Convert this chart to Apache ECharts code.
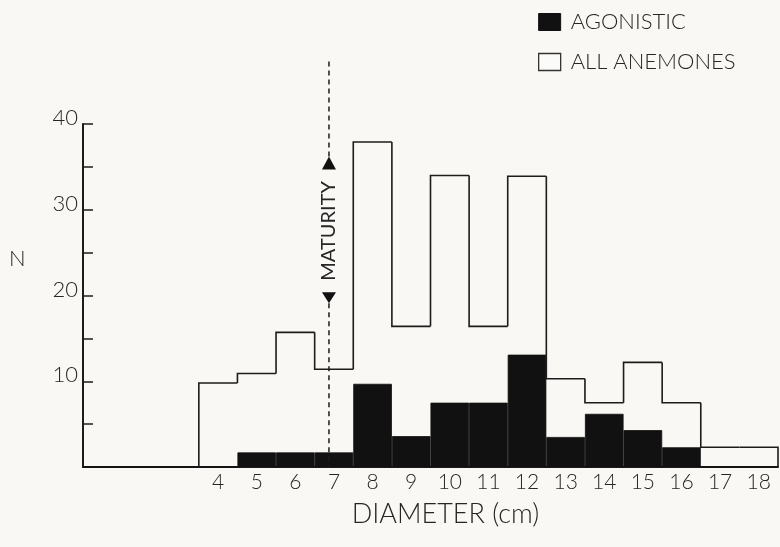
<!DOCTYPE html>
<html>
<head>
<meta charset="utf-8">
<script src="https://cdn.jsdelivr.net/npm/echarts@6/dist/echarts.min.js"></script>
<style>
  html, body { margin: 0; padding: 0; background: #f9f8f4; }
  #chart { width: 780px; height: 547px; }
</style>
</head>
<body>
<div id="chart"></div>
<script>
// Diameter classes (cm); classes 1-3 are empty space before the first bar
const categories = ['1','2','3','4','5','6','7','8','9','10','11','12','13','14','15','16','17','18'];
// ALL ANEMONES (outlined histogram); null = no bar
const allAnemones = [null, null, null, 9.8, 10.9, 15.7, 11.4, 37.9, 16.4, 34.0, 16.4, 33.9, 10.3, 7.5, 12.2, 7.5, 2.3, 2.3];
// AGONISTIC (filled histogram)
const agonistic = [0, 0, 0, 0, 1.7, 1.7, 1.7, 9.7, 3.6, 7.5, 7.5, 13.1, 3.5, 6.2, 4.3, 2.3, 0, 0];
// Y tick labels
const yTickLabels = ['10', '20', '30', '40'];
// Maturity marker
const maturityCategory = '7';

const FONT = 'Lato';
const INK = '#1c1c1c';
const TXT = '#262626';

// Build outline step data: [index, value, previousValue, isLast]
const outlineData = [];
let prev = 0;
const lastIdx = allAnemones.reduce((a, v, i) => (v != null ? i : a), -1);
allAnemones.forEach((v, i) => {
  if (v == null) return;
  outlineData.push([i, v, prev, i === lastIdx ? 1 : 0]);
  prev = v;
});
const matIdx = categories.indexOf(maturityCategory);

const chart = echarts.init(document.getElementById('chart'), null, { renderer: 'canvas' });

chart.setOption({
  backgroundColor: '#f9f8f4',
  animation: false,
  textStyle: { fontFamily: FONT, color: TXT },
  title: {
    text: 'N', left: 4, top: 243,
    textStyle: { fontFamily: FONT, fontWeight: 300, fontSize: 22, color: TXT }
  },
  legend: {
    orient: 'vertical', left: 533, top: 6,
    itemWidth: 22, itemHeight: 17, itemGap: 18,
    icon: 'rect',
    textStyle: { fontFamily: FONT, fontWeight: 300, fontSize: 22, color: TXT, padding: [0, 0, 0, 5] },
    data: [
      { name: 'AGONISTIC', itemStyle: { color: '#111', borderColor: '#111', borderWidth: 1 } },
      { name: 'ALL ANEMONES', itemStyle: { color: '#fbfbf9', borderColor: '#333', borderWidth: 1.3 } }
    ]
  },
  grid: { left: 83, right: 2, top: 124, bottom: 80, containLabel: false },
  xAxis: {
    type: 'category',
    data: categories,
    boundaryGap: true,
    name: 'DIAMETER (cm)',
    nameLocation: 'middle',
    nameGap: 34,
    nameTextStyle: { fontFamily: FONT, fontWeight: 300, fontSize: 27, color: TXT, padding: [0, 0, 0, 30] },
    axisLine: { lineStyle: { color: INK, width: 2 } },
    axisTick: { show: false },
    axisLabel: {
      interval: 0, margin: 5,
      fontFamily: FONT, fontWeight: 300, fontSize: 21, color: TXT,
      formatter: (v) => (Number(v) >= 4 ? v : '')
    },
    splitLine: { show: false }
  },
  yAxis: {
    type: 'value',
    min: 0, max: 40, interval: 10,
    axisLine: { show: true, lineStyle: { color: INK, width: 2 } },
    axisTick: { show: true, inside: true, length: 10, lineStyle: { color: INK, width: 1.5 } },
    minorTick: { show: true, splitNumber: 2, length: 10, lineStyle: { color: INK, width: 1.5 } },
    axisLabel: {
      margin: 5, verticalAlign: 'bottom', lineHeight: 12,
      fontFamily: FONT, fontWeight: 300, fontSize: 22, color: TXT,
      formatter: (v) => (yTickLabels.indexOf(String(v)) >= 0 ? String(v) : '')
    },
    splitLine: { show: false }
  },
  series: [
    {
      name: 'AGONISTIC',
      type: 'bar',
      data: agonistic,
      barWidth: '100%',
      barGap: '-100%',
      itemStyle: { color: '#111', borderColor: '#111', borderWidth: 0.8 },
      z: 2
    },
    {
      name: 'ALL ANEMONES',
      type: 'custom',
      data: outlineData,
      encode: { x: 0, y: 1 },
      z: 3,
      renderItem: function (params, api) {
        const idx = api.value(0);
        const v = api.value(1);
        const pv = api.value(2);
        const last = api.value(3);
        const c = api.coord([idx, v]);
        const w = api.size([1, 0])[0];
        const yPrev = api.coord([idx, pv])[1];
        const y0 = api.coord([idx, 0])[1];
        const l = c[0] - w / 2, r = c[0] + w / 2;
        const pts = [[l, yPrev], [l, c[1]], [r, c[1]]];
        if (last) pts.push([r, y0]);
        return {
          type: 'polyline',
          shape: { points: pts },
          style: { stroke: INK, lineWidth: 1.6, fill: null }
        };
      }
    },
    {
      name: 'maturity',
      type: 'custom',
      data: [[matIdx, 0]],
      encode: { x: 0, y: 1 },
      z: 4,
      silent: true,
      renderItem: function (params, api) {
        const idx = api.value(0);
        const base = api.coord([idx, 0]);
        const x = base[0] - 5;
        const yBase = base[1];
        const yTop = api.coord([idx, 47.3])[1];
        const upTip = api.coord([idx, 36.2])[1];
        const downTip = api.coord([idx, 19.1])[1];
        const mid = (upTip + 13 + downTip - 11) / 2;
        const dash = { stroke: INK, lineWidth: 1.5, lineDash: [5, 4] };
        return {
          type: 'group',
          children: [
            { type: 'line', shape: { x1: x, y1: yTop, x2: x, y2: upTip }, style: dash },
            { type: 'polygon', shape: { points: [[x, upTip], [x - 7, upTip + 13], [x + 7, upTip + 13]] }, style: { fill: '#111' } },
            {
              type: 'text', x: x, y: mid, rotation: Math.PI / 2,
              style: { text: 'MATURITY', fill: TXT, font: '400 20px ' + FONT, align: 'center', verticalAlign: 'middle' }
            },
            { type: 'polygon', shape: { points: [[x, downTip], [x - 7, downTip - 11], [x + 7, downTip - 11]] }, style: { fill: '#111' } },
            { type: 'line', shape: { x1: x, y1: downTip, x2: x, y2: yBase }, style: dash }
          ]
        };
      }
    }
  ]
});
</script>
</body>
</html>
